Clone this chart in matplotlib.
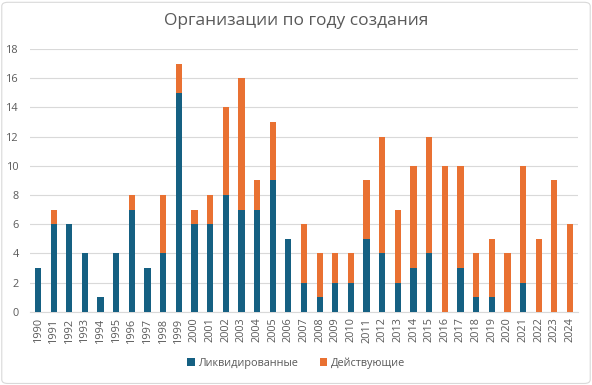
import matplotlib
matplotlib.use("Agg")
import matplotlib.pyplot as plt
from matplotlib.patches import FancyBboxPatch
import numpy as np

years = [str(y) for y in range(1990, 2025)]
liquidated = [3, 6, 6, 4, 1, 4, 7, 3, 4, 15, 6, 6, 8, 7, 7, 9, 5, 2, 1, 2, 2, 5, 4, 2, 3, 4, 0, 3, 1, 1, 0, 2, 0, 0, 0]
active =     [0, 1, 0, 0, 0, 0, 1, 0, 4, 2, 1, 2, 6, 9, 2, 4, 0, 4, 3, 2, 2, 4, 8, 5, 7, 8, 10, 7, 3, 4, 4, 8, 5, 9, 6]
yticks = list(range(0, 19, 2))

plt.rcParams['font.family'] = ['Open Sans', 'DejaVu Sans']

fig = plt.figure(figsize=(5.92, 3.85), dpi=100)
ax = fig.add_axes([0.051, 0.19, 0.925, 0.683])

x = np.arange(len(years))
blue = '#156082'
orange = '#E97132'
ax.bar(x, liquidated, width=0.4, color=blue, label='Ликвидированные', zorder=3)
ax.bar(x, active, width=0.4, bottom=liquidated, color=orange, label='Действующие', zorder=3)

ax.set_xlim(-0.5, len(years) - 0.5)
ax.set_ylim(0, 18)
ax.set_yticks(yticks)
ax.set_xticks(x)
ax.set_xticklabels(years, rotation=90)
ax.tick_params(axis='both', length=0, labelsize=7.8, colors='#595959')
ax.tick_params(axis='y', pad=8)
ax.tick_params(axis='x', pad=4)
ax.grid(axis='y', color='#D9D9D9', linewidth=0.8, zorder=0)
for s in ['top', 'right', 'left']:
    ax.spines[s].set_visible(False)
ax.spines['bottom'].set_color('#D9D9D9')

fig.text(0.5, 0.945, 'Организации по году создания', ha='center', va='center',
         fontsize=12.5, color='#595959')

handles, labels = ax.get_legend_handles_labels()
fig.legend(handles, labels, loc='center', bbox_to_anchor=(0.5, 0.057), ncol=2,
           frameon=False, fontsize=7.8, labelcolor='#595959', handlelength=0.7,
           handleheight=0.7, handletextpad=0.3, columnspacing=2.0)

border = FancyBboxPatch((0.003, 0.004), 0.994, 0.99, boxstyle='round,pad=0,rounding_size=0.01',
                        transform=fig.transFigure, fill=False, edgecolor='#D9D9D9', linewidth=0.8)
fig.patches.append(border)

fig.savefig('out.png', dpi=100)
